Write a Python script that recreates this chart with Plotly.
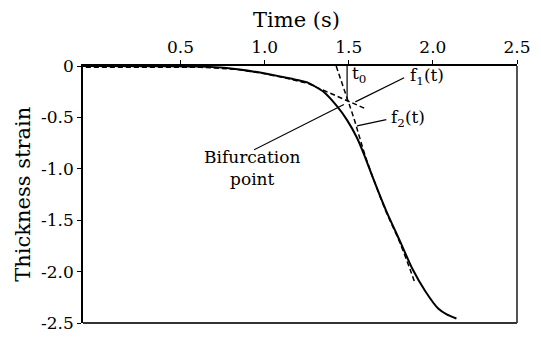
import plotly.graph_objects as go

# Measured thickness strain vs. time
time_s = [-0.08, 0.478, 0.600, 0.774, 0.995, 1.123, 1.256, 1.297, 1.355, 1.431, 1.489,
          1.547, 1.588, 1.646, 1.723, 1.801, 1.878, 1.955, 2.033, 2.082, 2.140]
strain = [0.0, -0.003, -0.006, -0.019, -0.070, -0.112, -0.162, -0.197, -0.257, -0.393, -0.524,
          -0.693, -0.849, -1.098, -1.411, -1.692, -1.973, -2.191, -2.362, -2.416, -2.456]

# Fitted curve f1(t): early (stable) stage, extrapolated
f1_time = [-0.063, 0.617, 0.832, 0.995, 1.123, 1.256, 1.607]
f1_strain = [-0.012, -0.012, -0.033, -0.073, -0.117, -0.169, -0.421]

# Fitted curve f2(t): late (unstable) stage, extrapolated back
f2_time = [1.425, 1.491, 1.530, 1.564, 1.599, 1.646, 1.721, 1.797, 1.866, 1.890]
f2_strain = [0.0, -0.318, -0.506, -0.693, -0.880, -1.096, -1.414, -1.692, -1.985, -2.097]

# Bifurcation time t0 (intersection of f1 and f2)
t0 = 1.49
t0_strain = -0.33

x_ticks = [0.5, 1.0, 1.5, 2.0, 2.5]
x_tick_text = ["0.5", "1.0", "1.5", "2.0", "2.5"]
y_ticks = [0, -0.5, -1.0, -1.5, -2.0, -2.5]
y_tick_text = ["0", "-0.5", "-1.0", "-1.5", "-2.0", "-2.5"]

FONT = "DejaVu Serif"

fig = go.Figure()

fig.add_trace(go.Scatter(x=f1_time, y=f1_strain, mode="lines",
                         line=dict(color="black", width=1.5, dash="5px,3px")))
fig.add_trace(go.Scatter(x=f2_time, y=f2_strain, mode="lines",
                         line=dict(color="black", width=1.5, dash="5px,3px", shape="spline")))
fig.add_trace(go.Scatter(x=time_s, y=strain, mode="lines",
                         line=dict(color="black", width=2, shape="spline", smoothing=0.6)))
fig.add_trace(go.Scatter(x=[t0, t0], y=[0, t0_strain], mode="lines",
                         line=dict(color="black", width=1.2)))

# Leader lines for labels
leaders = [
    ([0.937, 1.471], [-0.815, -0.375]),   # Bifurcation point
    ([1.829, 1.539], [-0.115, -0.349]),   # f1(t)
    ([1.723, 1.549], [-0.522, -0.583]),   # f2(t)
]
for lx, ly in leaders:
    fig.add_trace(go.Scatter(x=lx, y=ly, mode="lines",
                             line=dict(color="black", width=1.2)))

lab_font = dict(family=FONT, size=17, color="black")
fig.add_annotation(x=0.925, y=-0.993, text="Bifurcation<br>point", showarrow=False,
                   xanchor="center", yanchor="middle", font=lab_font)
fig.add_annotation(x=1.853, y=-0.100, text="f<sub>1</sub>(t)", showarrow=False,
                   xanchor="left", yanchor="middle", font=lab_font)
fig.add_annotation(x=1.742, y=-0.506, text="f<sub>2</sub>(t)", showarrow=False,
                   xanchor="left", yanchor="middle", font=lab_font)
fig.add_annotation(x=t0 + 0.015, y=-0.084, text="t<sub>0</sub>", showarrow=False,
                   xanchor="left", yanchor="middle", font=lab_font)

# Axis titles
fig.add_annotation(xref="paper", yref="paper", x=0.493, y=1.18, text="Time (s)",
                   showarrow=False, xanchor="center", yanchor="middle",
                   font=dict(family=FONT, size=21, color="black"))
fig.add_annotation(xref="paper", yref="paper", x=-0.14, y=0.5, text="Thickness strain",
                   showarrow=False, textangle=-90, xanchor="center", yanchor="middle",
                   font=dict(family=FONT, size=21, color="black"))

# Right and bottom frame edges
fig.add_shape(type="line", xref="paper", yref="paper", x0=1, x1=1, y0=0, y1=1,
              line=dict(color="#555555", width=2))
fig.add_shape(type="line", xref="paper", yref="paper", x0=0, x1=1, y0=0, y1=0,
              line=dict(color="#333333", width=2))

fig.update_xaxes(range=[-0.08, 2.5], side="top", tickvals=x_ticks, ticktext=x_tick_text,
                 showgrid=False, zeroline=False, showline=True, linecolor="black", linewidth=1.5,
                 ticks="outside", ticklen=4, tickcolor="black",
                 tickfont=dict(family=FONT, size=17, color="black"))
fig.update_yaxes(range=[-2.5, 0], tickvals=y_ticks, ticktext=y_tick_text,
                 showgrid=False, zeroline=False, showline=True, linecolor="black", linewidth=1.5,
                 ticks="outside", ticklen=4, tickcolor="black",
                 tickfont=dict(family=FONT, size=17, color="black"))

fig.update_layout(width=541, height=343, margin=dict(l=83, r=14, t=66, b=10),
                  paper_bgcolor="white", plot_bgcolor="white", showlegend=False)

fig.write_html("out.html")
